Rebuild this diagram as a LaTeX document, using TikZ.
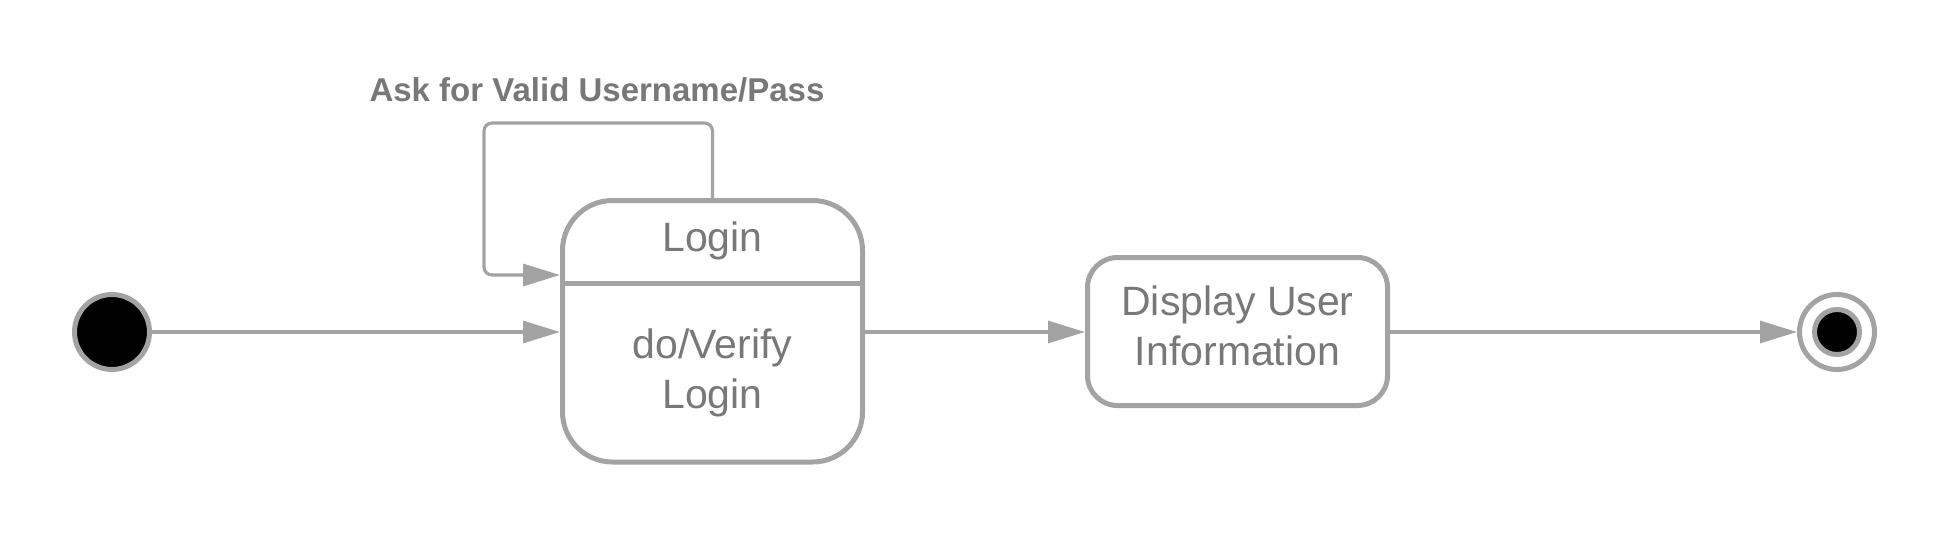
\documentclass[tikz,border=0pt]{standalone}
\usepackage{fontspec}
\setmainfont{Liberation Sans}
\usetikzlibrary{arrows.meta,calc}
\definecolor{edgegrey}{HTML}{A3A3A3}
\definecolor{txtgrey}{HTML}{787878}
\tikzset{
  statebox/.style={draw=edgegrey, line width=5pt, fill=white, rectangle},
  statetext/.style={text=txtgrey, font=\fontsize{41}{50}\selectfont, align=center, inner sep=0pt},
  initstate/.style={circle, draw=edgegrey, line width=5pt, fill=black, minimum size=75pt, inner sep=0pt},
  finalring/.style={circle, draw=edgegrey, line width=5pt, fill=white, minimum size=75pt, inner sep=0pt},
  finaldot/.style={circle, draw=edgegrey, line width=5pt, fill=black, minimum size=45pt, inner sep=0pt},
  conn/.style={draw=edgegrey, line width=3.2pt, -{Triangle[length=37pt,width=22pt]}},
  lbl/.style={text=txtgrey, font=\fontsize{33}{40}\selectfont\bfseries, inner sep=0pt}
}
\begin{document}
\begin{tikzpicture}[x=1pt,y=-1pt]
\useasboundingbox (0,0) rectangle (1950,538);
\node[initstate] (start) at (112,332) {};
\node[statebox, minimum width=300pt, minimum height=261.5pt, rounded corners=50pt] (login) at (712.5,331.25) {};
\coordinate (divy) at (0,283);
\draw[draw=edgegrey, line width=5pt] (login.west |- divy) -- (login.east |- divy);
\node[statetext] (logintitle) at (712.5,241) {Login};
\node[statetext] (loginbody) at (712.5,373) {do/Verify\\Login};
\node[statebox, minimum width=300pt, minimum height=148pt, rounded corners=30pt] (display) at (1237.5,331.5) {};
\node[statetext] (displaytext) at (1237.5,326) {Display User\\Information};
\node[finalring] (end) at (1837,332) {};
\node[finaldot] (enddot) at (1837,332) {};
\node[lbl] (asklbl) at (597,90) {Ask for Valid Username/Pass};
\coordinate (loopy) at (0,275);
\coordinate (looptop) at (0,123);
\coordinate (loopleft) at (484,0);
\draw[conn] (start) -- (start -| login.west);
\draw[conn] (login.east |- start) -- (display.west |- start);
\draw[conn] (display.east |- start) -- (end.west);
\draw[conn, rounded corners=8pt] (login.north) -- (login.north |- looptop) -- (loopleft |- looptop) -- (loopleft |- loopy) -- ++(20,0) [sharp corners] -- (login.west |- loopy);
\end{tikzpicture}
\end{document}
